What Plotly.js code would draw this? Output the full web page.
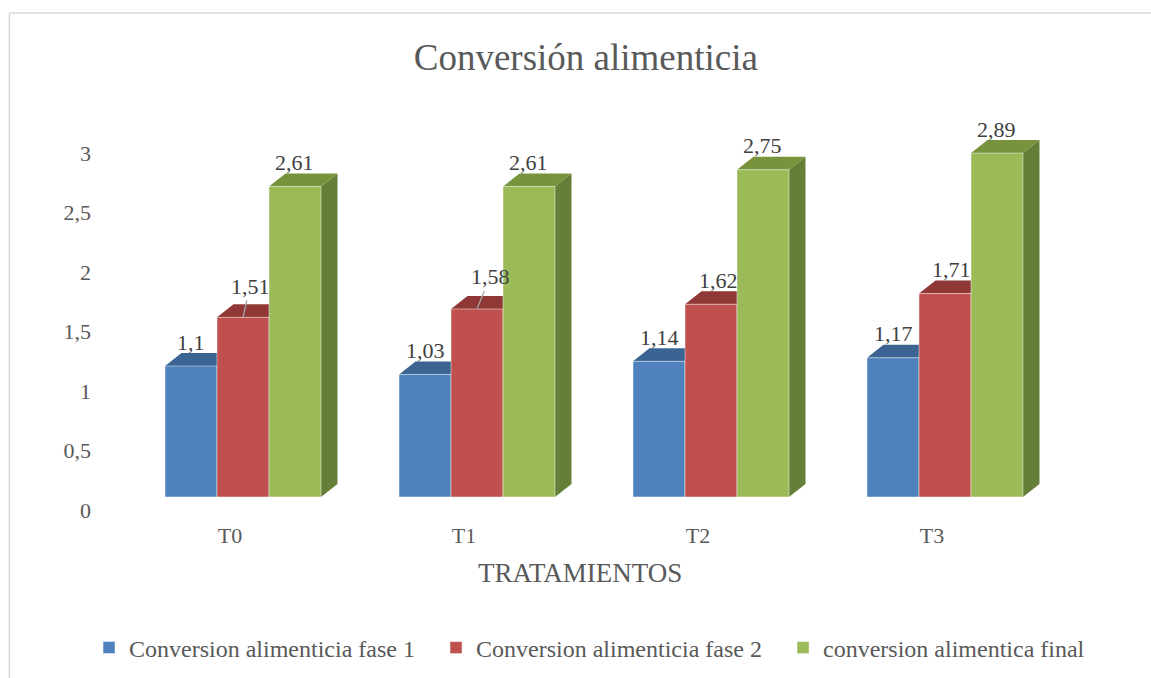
<!DOCTYPE html>
<html>
<head>
<meta charset="utf-8">
<script src="https://cdn.plot.ly/plotly-3.0.1.min.js"></script>
<style>html,body{margin:0;padding:0;background:#fff;}#chart{width:1151px;height:678px;}</style>
</head>
<body>
<div id="chart"></div>
<script>
// ---- data ----
var categories = ["T0", "T1", "T2", "T3"];
var fase1 = [1.10, 1.03, 1.14, 1.17];
var fase2 = [1.51, 1.58, 1.62, 1.71];
var final = [2.61, 2.61, 2.75, 2.89];
var seriesNames = ["Conversion alimenticia fase 1", "Conversion alimenticia fase 2", "conversion alimentica final"];
var yTicks = [0, 0.5, 1, 1.5, 2, 2.5, 3];
var yTickText = ["0", "0,5", "1", "1,5", "2", "2,5", "3"];

// ---- style ----
var serif = "Liberation Serif, Times New Roman, serif";
var frontColors = ["#4F81BD", "#C0504D", "#9BBB59"];
var topColors = ["#3B6492", "#8F3836", "#77933C"];
var sideColors = ["#335680", "#7A2F2D", "#667F38"];
var barW = 0.2222;
var offsets = [-0.3333, -0.1111, 0.1111];
var depthX = 0.0705, depthY = 0.109;
// label nudges in pixels [dx, dy above top]
var labelNudge = [
  [[0,24],[0,24],[0,24],[0,24]],
  [[7,31],[13,32],[7,24],[6,24]],
  [[0,24],[0,24],[0,24],[0,24]]
];
var leader = [[false,false,false,false],[true,true,false,false],[false,false,false,false]];

var xIdx = categories.map(function(_, i){ return i; });
var series = [fase1, fase2, final];

function fmt(v){ return String(v).replace('.', ','); }

var traces = series.map(function(vals, s){
  return {
    type: 'bar', name: seriesNames[s], x: xIdx, y: vals,
    width: barW, offset: offsets[s],
    marker: {color: frontColors[s], line: {color: 'rgba(255,255,255,0.45)', width: 1}},
    hoverinfo: 'skip', xaxis: 'x', yaxis: 'y'
  };
});
// carrier for tick-label axes
traces.push({type:'scatter', mode:'none', x: xIdx, y: fase1, xaxis:'x2', yaxis:'y2', showlegend:false, hoverinfo:'skip'});

var shapes = [];
series.forEach(function(vals, s){
  vals.forEach(function(v, i){
    var xl = i + offsets[s], xr = xl + barW;
    shapes.push({type:'path', xref:'x', yref:'y', layer:'below',
      path: 'M'+xr+','+0+' L'+xr+','+v+' L'+(xr+depthX)+','+(v+depthY)+' L'+(xr+depthX)+','+depthY+' Z',
      fillcolor: sideColors[s], line:{width:0}});
    shapes.push({type:'path', xref:'x', yref:'y', layer:'below',
      path: 'M'+xl+','+v+' L'+xr+','+v+' L'+(xr+depthX)+','+(v+depthY)+' L'+(xl+depthX)+','+(v+depthY)+' Z',
      fillcolor: topColors[s], line:{width:0}});
  });
});
// chart border
shapes.push({type:'rect', xref:'paper', yref:'paper', layer:'below',
  x0:-0.1245, x1:1.12, y0:-0.45, y1:1.207, line:{color:'#D9D9D9', width:1.5}, fillcolor:'rgba(0,0,0,0)'});

var annotations = [];
series.forEach(function(vals, s){
  vals.forEach(function(v, i){
    var xc = i + offsets[s] + barW/2;
    var n = labelNudge[s][i];
    var a = {x: xc, y: v, xref:'x', yref:'y', text: fmt(v),
      font:{family: serif, size: 22, color:'#404040'}};
    if (leader[s][i]) {
      a.showarrow = true; a.arrowhead = 0; a.arrowwidth = 1.3; a.arrowcolor = '#A6A6A6';
      a.ax = n[0]; a.ay = -n[1]; a.standoff = 0;
    } else {
      a.showarrow = false; a.xshift = n[0]; a.yshift = n[1]; a.yanchor = 'middle';
    }
    annotations.push(a);
  });
});
annotations.push({text:'TRATAMIENTOS', xref:'paper', yref:'paper', x:0.485, y:-0.126,
  xanchor:'center', yanchor:'middle', showarrow:false,
  font:{family: serif, size: 27, color:'#595959'}});

var layout = {
  width: 1151, height: 678, autosize: false,
  margin: {l:126, r:89, t:100, b:158, autoexpand:false},
  paper_bgcolor: '#fff', plot_bgcolor: 'rgba(0,0,0,0)',
  separators: ', ',
  barmode: 'overlay',
  showlegend: true,
  title: {text: 'Conversión alimenticia', xref:'container', yref:'container', x: 0.509, y: 0.916,
    xanchor:'center', yanchor:'middle', font:{family: serif, size: 37, color:'#595959'}},
  xaxis: {range:[-0.5, 3.5], showticklabels:false, showgrid:false, zeroline:false, showline:false, fixedrange:true},
  yaxis: {range:[-0.1933, 3.336], showticklabels:false, showgrid:false, zeroline:false, showline:false, fixedrange:true},
  xaxis2: {overlaying:'x', anchor:'y2', side:'bottom', range:[-0.4444, 3.5556],
    tickmode:'array', tickvals: xIdx, ticktext: categories, ticks:'', showgrid:false, zeroline:false, showline:false,
    tickfont:{family: serif, size: 22, color:'#595959'}, fixedrange:true},
  yaxis2: {overlaying:'y', anchor:'x2', side:'left', range:[-0.084, 3.445],
    tickmode:'array', tickvals: yTicks, ticktext: yTickText, ticks:'', ticklabelstandoff: 34,
    showgrid:false, zeroline:false, showline:false,
    tickfont:{family: serif, size: 22, color:'#595959'}, fixedrange:true},
  legend: {orientation:'h', xref:'paper', yref:'paper', x: -0.0395, y: -0.3048,
    xanchor:'left', yanchor:'middle', entrywidth: 302, entrywidthmode:'pixels',
    font:{family: serif, size: 24, color:'#595959'}, bgcolor:'rgba(0,0,0,0)'},
  shapes: shapes,
  annotations: annotations
};

Plotly.newPlot('chart', traces, layout, {displayModeBar:false, staticPlot:true});
</script>
</body>
</html>
